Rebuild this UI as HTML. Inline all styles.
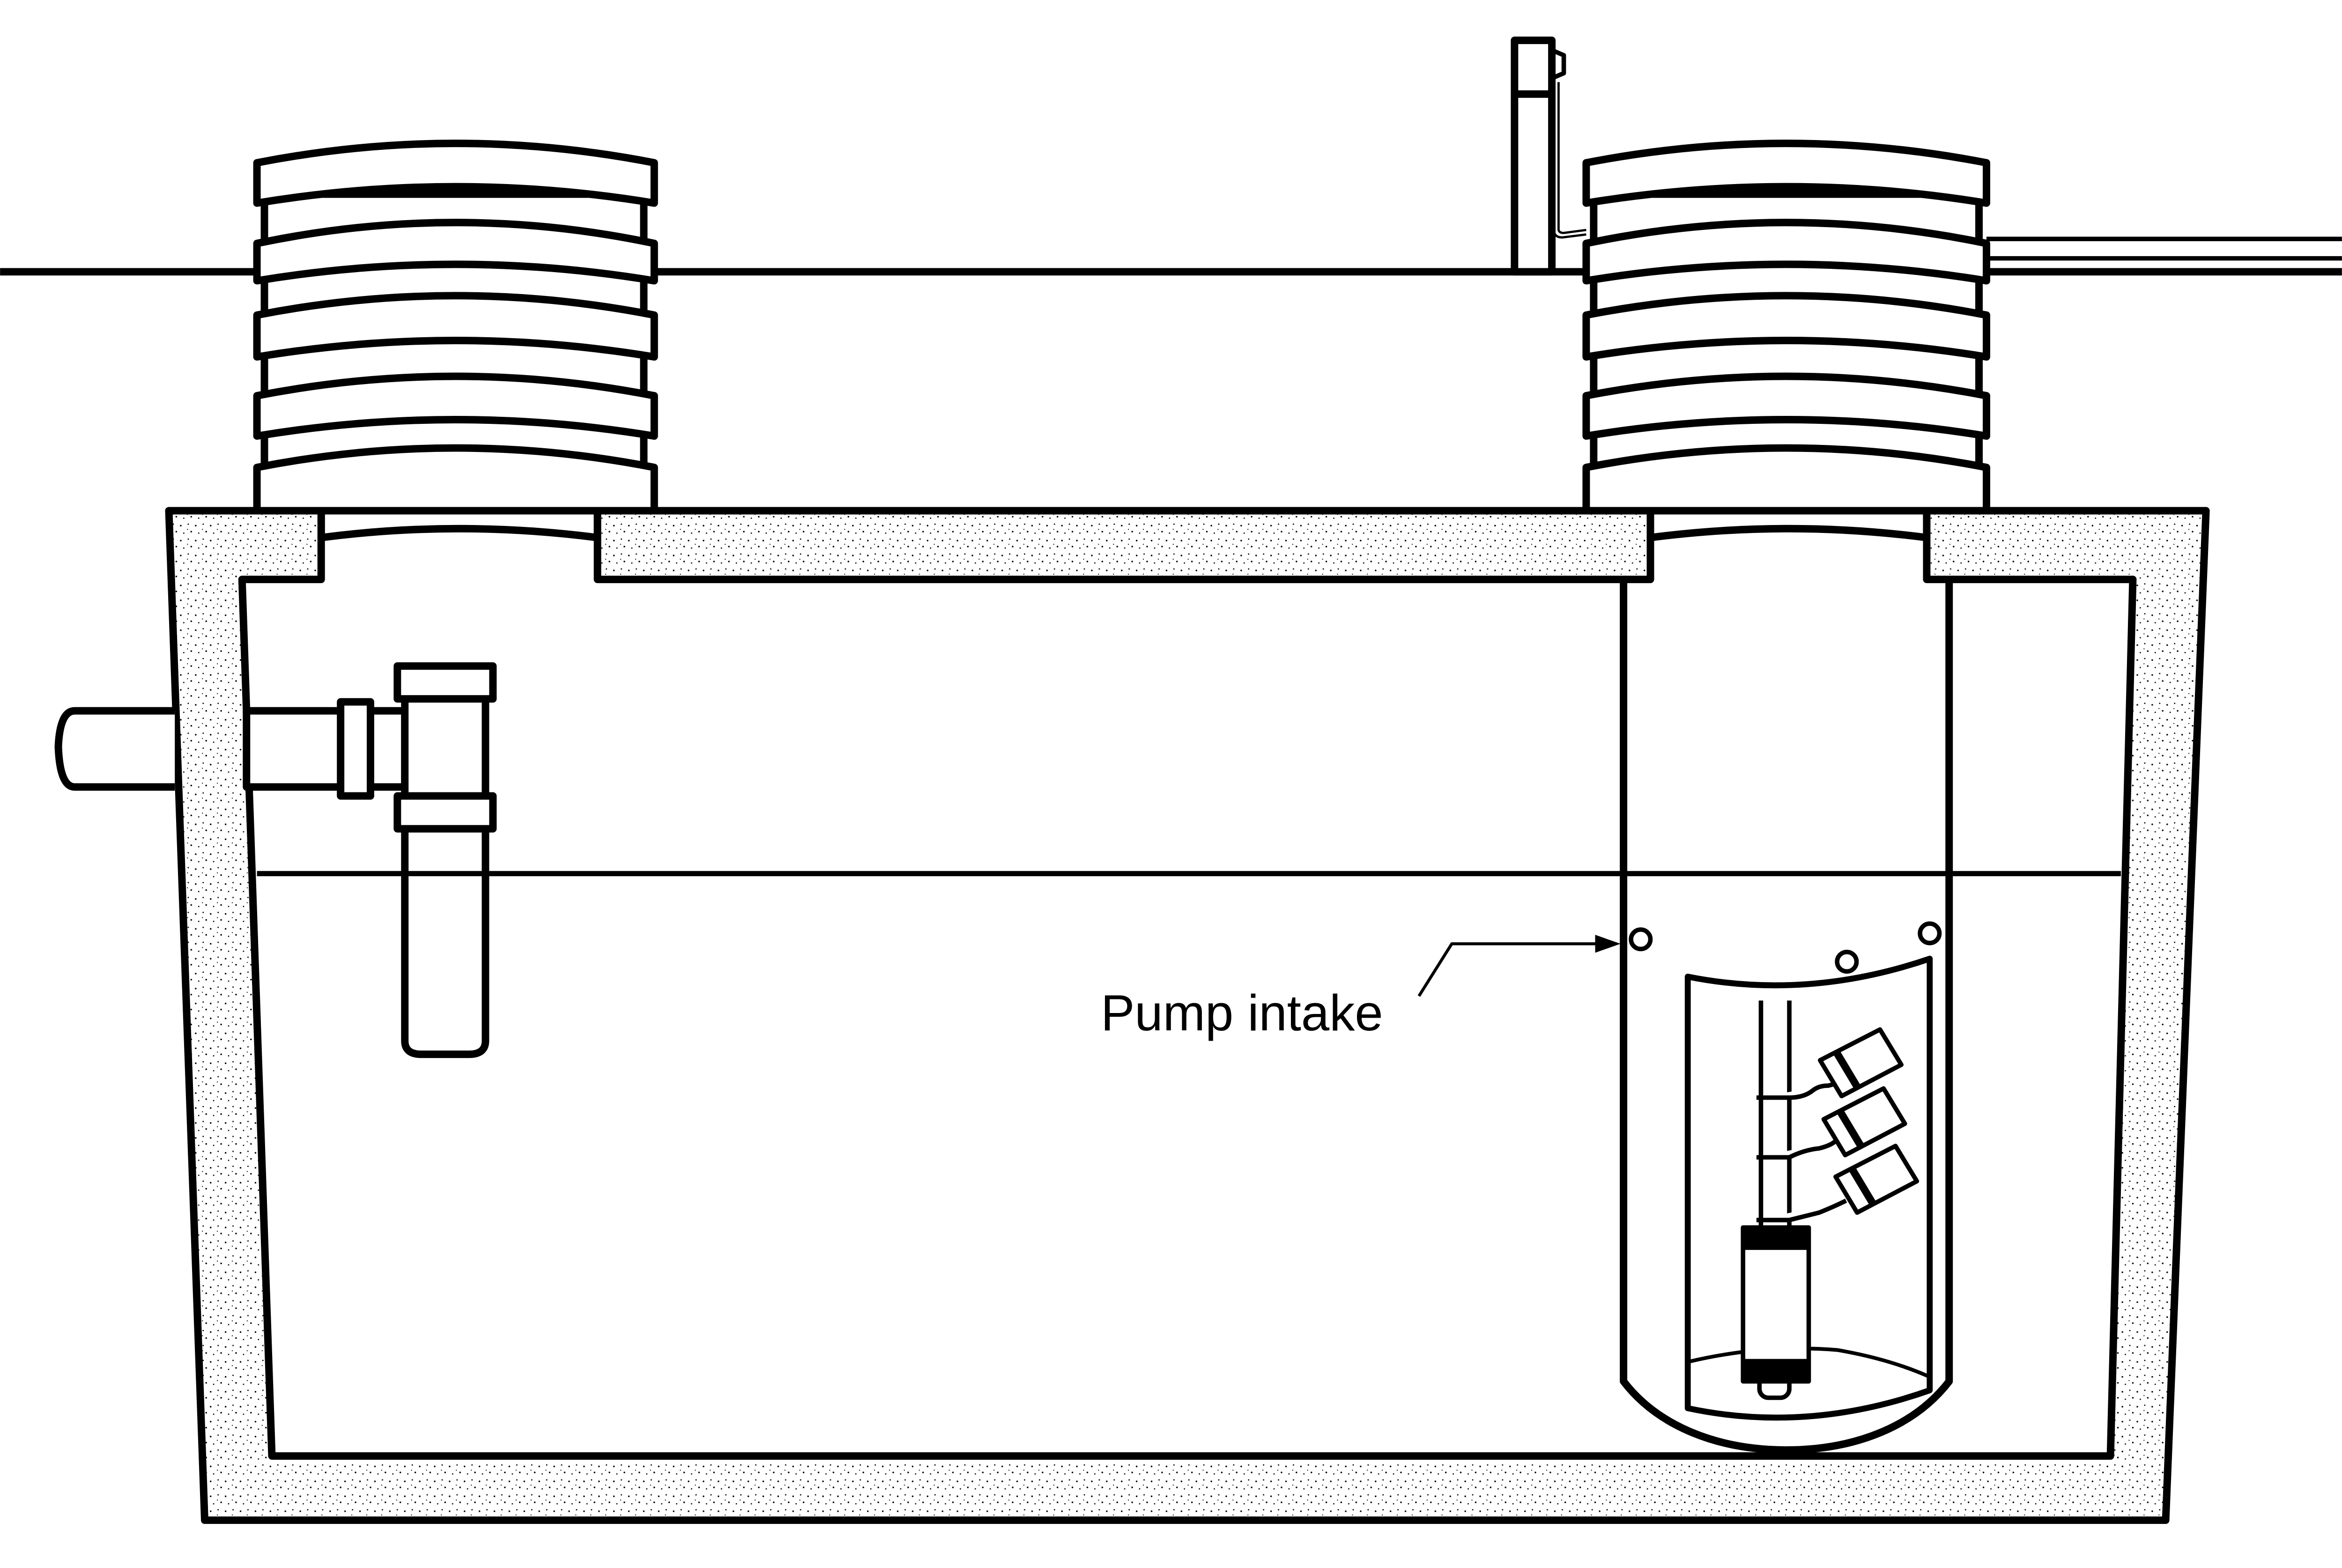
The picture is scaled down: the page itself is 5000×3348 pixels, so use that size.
<!DOCTYPE html>
<html><head><meta charset="utf-8"><style>html,body{margin:0;padding:0;background:#fff}svg{display:block}</style></head><body>
<svg width="5000" height="3348" viewBox="0 0 1568 1050" xmlns="http://www.w3.org/2000/svg">
<defs>
<pattern id="st" width="10" height="10" patternUnits="userSpaceOnUse">
<rect width="10" height="10" fill="#fff"/>
<circle cx="1" cy="2" r="0.55" fill="#000"/><circle cx="6" cy="1" r="0.45" fill="#000"/>
<circle cx="8" cy="6" r="0.55" fill="#000"/><circle cx="3" cy="7" r="0.45" fill="#000"/>
<circle cx="5.5" cy="4.5" r="0.35" fill="#000"/>
</pattern>
</defs>
<g fill="none" stroke="#000" stroke-width="5" stroke-linejoin="round">
<!-- ground -->
<line x1="0" y1="182" x2="1568" y2="182"/>
<!-- right pipe -->
<line x1="1330" y1="160" x2="1568" y2="160" stroke-width="3"/>
<line x1="1330" y1="173" x2="1568" y2="173" stroke-width="3"/>
<!-- vent -->
<rect x="1014" y="27" width="25" height="155" fill="#fff"/>
<line x1="1014" y1="63" x2="1039" y2="63"/>
<path d="M1040,34 L1047,37 L1047,49 L1040,52" stroke-width="3"/>
<path d="M1040.5,57 L1040.5,155 Q1041,159 1046,159 L1062,157" stroke-width="1.5"/>
<path d="M1043.5,55 L1043.5,154 Q1044,156 1047,156 L1062,154" stroke-width="1.5"/>
<!-- risers -->
<g fill="#fff">
<rect x="177" y="130" width="254" height="212" stroke-width="5"/>
<path d="M172,109 Q305,83 438,109 L438,136 Q305,114 172,136 Z"/>
<path d="M172,163 Q305,135 438,163 L438,188 Q305,166 172,188 Z"/>
<path d="M172,211 Q305,185 438,211 L438,239 Q305,217 172,239 Z"/>
<path d="M172,265 Q305,239 438,265 L438,292 Q305,270 172,292 Z"/>
<path d="M172,313 Q305,287 438,313 L438,342 L172,342 Z"/>
<path d="M215,342 L215,360 Q307,348 400,360 L400,342 Z"/>
<rect x="1067" y="130" width="258" height="212" stroke-width="5"/>
<path d="M1062,109 Q1196,83 1330,109 L1330,136 Q1196,114 1062,136 Z"/>
<path d="M1062,163 Q1196,135 1330,163 L1330,188 Q1196,166 1062,188 Z"/>
<path d="M1062,211 Q1196,185 1330,211 L1330,239 Q1196,217 1062,239 Z"/>
<path d="M1062,265 Q1196,239 1330,265 L1330,292 Q1196,270 1062,292 Z"/>
<path d="M1062,313 Q1196,287 1330,313 L1330,342 L1062,342 Z"/>
<path d="M1105,342 L1105,360 Q1197,348 1290,360 L1290,342 Z"/>
</g>
<!-- concrete -->
<path d="M113,342 L215,342 L215,388 L162,388 L182,975 L1413,975 L1428,388 L1290,388 L1290,342 L1477,342 L1450,1018 L137,1018 Z" fill="url(#st)"/>
<rect x="400" y="342" width="705" height="46" fill="url(#st)"/>
<!-- water -->
<line x1="172" y1="585" x2="1420" y2="585" stroke-width="3.5"/>
<!-- vault -->
<path d="M1087,388 L1087,925 C1110,955 1150,971 1196,971 C1242,971 1282,955 1305,925 L1305,388"/>
<circle cx="1098.5" cy="629" r="6.5" stroke-width="3"/>
<circle cx="1292" cy="625" r="6.5" stroke-width="3"/>
<circle cx="1236.5" cy="644" r="6.5" stroke-width="3"/>
<path d="M1130,654 Q1210,670 1292,642 L1292,931 Q1210,960 1130,943 Z" stroke-width="4"/>
<path d="M1130,912 Q1180,900 1230,904 Q1265,910 1292,922" stroke-width="2.5"/>
<!-- pump -->
<line x1="1179" y1="670" x2="1179" y2="822" stroke-width="3"/>
<line x1="1198" y1="670" x2="1198" y2="822" stroke-width="3"/>
<rect x="1178" y="918" width="20" height="18" rx="6" fill="#fff" stroke-width="3"/>
<rect x="1167" y="822" width="44" height="103" fill="#fff" stroke-width="3"/>
<rect x="1167" y="822" width="44" height="15" fill="#000" stroke="none"/>
<rect x="1167" y="910" width="44" height="15" fill="#000" stroke="none"/>
<g stroke-width="3" fill="#fff">
<path d="M1176,735 L1198,735 Q1208,735 1214,730 Q1218,727 1224,727 L1228,726"/>
<path d="M1176,775 L1198,775 Q1208,770 1218,769 Q1226,767 1229,764"/>
<path d="M1176,817 L1198,817 Q1210,814 1218,812 Q1228,808 1236,804"/>
<g id="fl">
<polygon points="1218.6,710 1258.7,689.4 1273,713 1233,734"/>
<line x1="1229.4" y1="704.4" x2="1243.8" y2="728.4" stroke-width="5"/>
</g>
<use href="#fl" transform="translate(2.4,39.5)"/>
<use href="#fl" transform="translate(10.4,78)"/>
</g>
<!-- inlet -->
<path d="M117,476 L50,476 Q40,476 39,500 Q40,527 50,527 L117,527" fill="#fff"/>
<rect x="165" y="476" width="106" height="51" fill="#fff"/>
<rect x="228" y="470" width="20" height="63" fill="#fff"/>
<rect x="271" y="466" width="54" height="68" fill="#fff"/>
<path d="M271,555 L271,697 Q271,706 282,706 L314,706 Q325,706 325,697 L325,555" fill="#fff"/>
<line x1="271" y1="585" x2="325" y2="585" stroke-width="3.5"/>
<rect x="266" y="446" width="64" height="22" fill="#fff"/>
<rect x="266" y="533" width="64" height="22" fill="#fff"/>
<!-- label arrow -->
<path d="M950,667 L972,632 L1070,632" stroke-width="2"/>
<path d="M1085,632 L1068,626 L1068,638 Z" fill="#000" stroke="none"/>
</g>
<text x="737" y="690" font-family="Liberation Sans, sans-serif" font-size="34">Pump intake</text>
</svg>
</body></html>
